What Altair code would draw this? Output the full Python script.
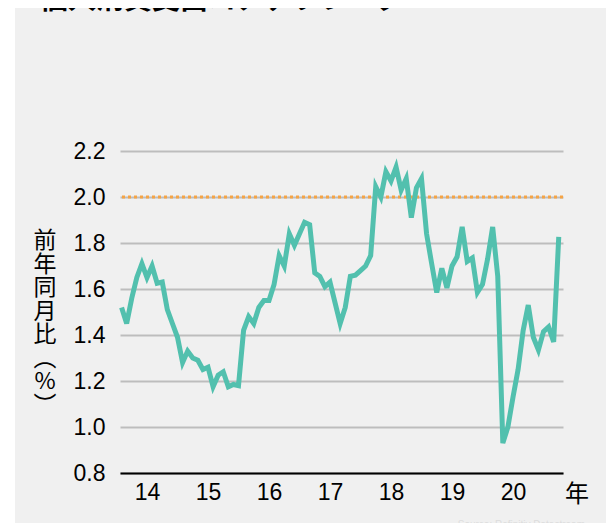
import altair as alt
import pandas as pd

# Monthly values, Feb 2014 .. Apr 2021 (year-on-year, %)
start_year = 2014
start_month_index = 1  # months after Jan 2014
v2014 = [1.52, 1.45, 1.56, 1.65, 1.71, 1.65, 1.70, 1.625, 1.63, 1.51, 1.45]
v2015 = [1.39, 1.28, 1.33, 1.30, 1.29, 1.25, 1.26, 1.175, 1.225, 1.24, 1.175, 1.185]
v2016 = [1.18, 1.42, 1.48, 1.45, 1.52, 1.55, 1.55, 1.62, 1.745, 1.70, 1.84, 1.79]
v2017 = [1.84, 1.89, 1.88, 1.67, 1.655, 1.61, 1.63, 1.54, 1.45, 1.52, 1.655, 1.66]
v2018 = [1.68, 1.70, 1.745, 2.045, 2.00, 2.11, 2.07, 2.13, 2.03, 2.08, 1.91, 2.04]
v2019 = [2.08, 1.84, 1.71, 1.585, 1.69, 1.605, 1.70, 1.74, 1.87, 1.72, 1.735, 1.585]
v2020 = [1.62, 1.73, 1.87, 1.655, 0.93, 1.00, 1.13, 1.25, 1.42, 1.53, 1.39, 1.335]
v2021 = [1.415, 1.435, 1.37, 1.827]
values = v2014 + v2015 + v2016 + v2017 + v2018 + v2019 + v2020 + v2021

year_ticks = [2014.5, 2015.5, 2016.5, 2017.5, 2018.5, 2019.5, 2020.5]
y_ticks = [0.8, 1.0, 1.2, 1.4, 1.6, 1.8, 2.0, 2.2]
target = 2.0

title_text = "個人消費支出コアデフレーター"
y_title_lines = ["前", "年", "同", "月", "比", "︵", "%", "︶"]
x_unit = "年"
source_text = "Source: Refinitiv Datastream"

df = pd.DataFrame({
    "t": [start_year + (start_month_index + i) / 12 for i in range(len(values))],
    "v": values,
})

W, H = 443, 322
PL, PT = 112, 143
SVG_W, SVG_H = 598, 515

font = "Liberation Sans"
jp_font = "Noto Sans CJK JP"

xscale = alt.Scale(domain=[2014.0574, 2021.3197], nice=False, zero=False)
yscale = alt.Scale(domain=[0.8, 2.2], nice=False, zero=False)

base = alt.Chart(df)

line = base.mark_line(color="#52C0AE", strokeWidth=5, strokeJoin="miter").encode(
    x=alt.X("t:Q", scale=xscale,
            axis=alt.Axis(values=year_ticks, labelExpr="format(floor(datum.value) - 2000, 'd')",
                          grid=False, ticks=False, domainColor="black", domainWidth=2,
                          labelFontSize=23, labelFont=font, labelColor="black",
                          labelPadding=8, title=None)),
    y=alt.Y("v:Q", scale=yscale,
            axis=alt.Axis(values=y_ticks, format=".1f", grid=True, gridColor="#bdbdbd",
                          gridWidth=2, ticks=False, domain=False,
                          labelFontSize=23, labelFont=font, labelColor="black",
                          labelPadding=15, title=None)),
)

rule = alt.Chart(pd.DataFrame({"y": [target]})).mark_rule(
    color="#F5A445", strokeWidth=3, strokeDash=[3, 3]
).encode(y=alt.Y("y:Q", scale=yscale))

left_strip = alt.Chart(pd.DataFrame({"a": [0]})).mark_rect(color="white").encode(
    x=alt.value(-PL), x2=alt.value(-PL + 7), y=alt.value(-PT), y2=alt.value(SVG_H - PT)
)

title = alt.Chart(pd.DataFrame({"a": [0]})).mark_text(
    text=title_text, fontSize=28, fontWeight="bold", font=jp_font, color="black",
    align="left", baseline="alphabetic"
).encode(x=alt.value(32 - PL), y=alt.value(-PT + 1))

ytitle = alt.Chart(pd.DataFrame({"a": [0]})).mark_text(
    fontSize=23, font=jp_font, color="black", align="center", baseline="middle",
    lineHeight=23.5
).encode(text=alt.value(y_title_lines), x=alt.value(-75), y=alt.value(90))

xunit = alt.Chart(pd.DataFrame({"a": [0]})).mark_text(
    text=x_unit, fontSize=24, font=jp_font, color="black", align="center", baseline="middle"
).encode(x=alt.value(457), y=alt.value(344))

source = alt.Chart(pd.DataFrame({"a": [0]})).mark_text(
    text=source_text, fontSize=10, font=font, color="#dddddd", align="right", baseline="top"
).encode(x=alt.value(465), y=alt.value(369))

chart = alt.layer(left_strip, rule, line, title, ytitle, xunit, source).properties(
    width=W, height=H,
    autosize=alt.AutoSizeParams(type="none"),
    padding={"left": PL, "top": PT, "right": SVG_W - PL - W, "bottom": SVG_H - PT - H},
    background="#f0f0f0",
).configure_view(stroke=None)

chart.save("out.html", embed_options={"renderer": "svg", "actions": False})
